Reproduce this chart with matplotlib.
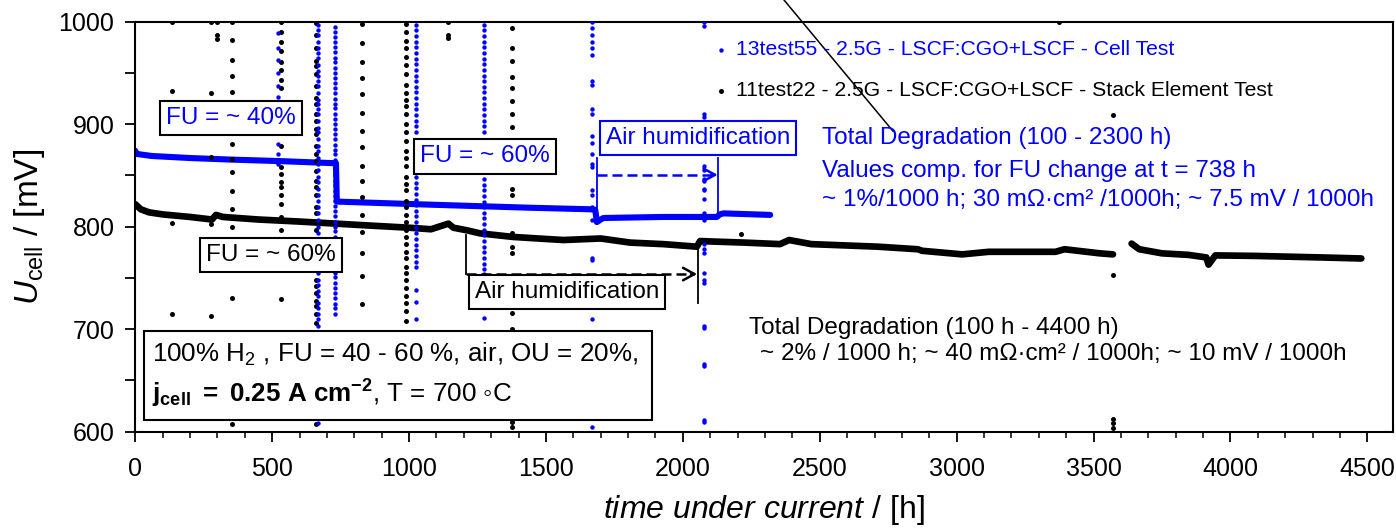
import matplotlib
matplotlib.use("Agg")
import matplotlib.pyplot as plt
from matplotlib.patches import Rectangle
from matplotlib.ticker import MultipleLocator
import numpy as np

plt.rcParams['font.family'] = ['Liberation Sans', 'DejaVu Sans']
plt.rcParams['mathtext.fontset'] = 'custom'
plt.rcParams['mathtext.rm'] = 'Liberation Sans'
plt.rcParams['mathtext.it'] = 'Liberation Sans:italic'
plt.rcParams['mathtext.bf'] = 'Liberation Sans:bold'

BLUE = '#0000ff'
nan = np.nan

# 11test22 stack element test - main trace (h, mV)
blk_t = [0, 20, 50, 100, 200, 280, 295, 320, 450, 600, 700, 830, 1000, 1080,
         1144, 1162, 1211, 1259, 1380, 1563, 1700, 1807, 1928, 2051, 2063, 2111,
         2224, 2355, 2388, 2469, 2712, 2858, 2874, 3020, 3117, 3361, 3394, 3523,
         3571, nan, 3639, 3667, 3750, 3847, 3912, 3920, 3945, 4090, 4332, 4478]
blk_u = [822, 817, 814, 812, 809.5, 807, 811.5, 809.5, 807, 805, 803.5, 801.5, 799, 797.5,
         803, 799, 796.5, 793.5, 790, 787, 788.5, 784.5, 783, 780.5, 786, 785.5,
         784.5, 783, 787, 783, 780.5, 778, 776.5, 773, 775.5, 775.5, 778, 774,
         773, nan, 783.5, 778, 774, 772.5, 770, 763, 772, 771.5, 770, 769]

# 13test55 cell test - main trace
blu_t = [0, 5, 60, 200, 346, 528, 723, 733, 736, 1077, 1442, 1661, 1680, 1686,
         1700, 1710, 1928, 2124, 2135, 2148, 2319]
blu_u = [874, 871, 869, 867, 865.5, 864, 862, 862, 824.5, 821.5, 818.5, 817, 816.5, 804.5,
         807, 808.5, 809.5, 809.5, 812, 813, 811.5]

# scattered readings at interruptions (time of event, voltages recorded)
blk_spike_t = [133, 277, 298, 352, 534, 661, 827, 988, 1142, 1375, 2212, 3374, 3572]
blk_spike_u = [
    [1000, 932, 804, 715],
    [1000, 930, 868, 802.5, 713],
    [1000, 987, 983.5],
    [1000, 982, 963, 947, 931, 913.5, 898.5, 881, 866, 853, 835, 817.5, 800, 730.5, 607.5],
    [1000, 990, 980.5, 971, 961, 953, 943.5, 935.5, 918, 902, 879, 858, 851.5, 843.5,
     838.5, 830.5, 822.5, 809.5, 796.5, 729],
    [998.5, 987, 974, 961.5, 956.5, 948.5, 937, 926, 919.5, 909.5, 903, 895, 890.5, 879,
     871, 864.5, 854.5, 845, 838.5, 830.5, 819.5, 813, 804.5, 796.5, 780, 765, 748, 742,
     735.5, 727.5, 722.5, 714.5, 706, 607.5],
    [997.5, 979, 961, 945, 929, 911, 893.5, 877.5, 859.5, 845, 829, 811, 795, 774, 751.5, 724.5],
    [997.5, 989.5, 981.5, 974, 966, 958, 948.5, 938.5, 930.5, 924, 917.5, 909.5, 900, 892,
     884, 874, 867.5, 859.5, 848.5, 842, 835.5, 825.5, 819.5, 811, 804.5, 796.5, 790, 783.5,
     775.5, 769, 761, 754.5, 748, 740, 732, 725.5, 717.5, 708],
    [1000, 987, 984],
    [993.5, 974, 961.5, 946.5, 935.5, 922.5, 909.5, 897, 837, 830.5, 793.5, 780.5, 774,
     716, 700, 609.5, 604.5],
    [792.5],
    [1000],
    [908.5, 753, 612, 608, 604],
]

blu_spike_t = [520, 666, 731, 1024, 1272, 1667, 2078]
blu_spike_u = [
    [989, 974, 963, 950, 937, 927, 880.5, 871, 861],
    [997, 992, 987, 980.5, 974, 969.5, 964.5, 958, 951.5, 947, 942, 937, 930.5, 924, 919.5,
     914.5, 909.5, 903, 896.5, 892, 885.5, 879, 874, 867.5, 861, 855, 848.5, 843.5, 837,
     830.5, 825.5, 819.5, 813, 806.5, 800, 793.5, 787, 780.5, 774, 767.5, 761, 754.5, 748,
     743.5, 737, 732, 725.5, 721, 714.5, 709.5, 703, 608],
    [995, 990, 985, 980, 975.5, 970, 965, 960.5, 955, 950, 945.5, 940, 935, 930.5, 925, 920,
     915.5, 910, 905, 900.5, 895, 890, 885.5, 880, 875, 870.5, 865, 860, 855.5, 850, 845,
     840.5, 835, 830, 825.5, 820, 815, 810.5, 805, 800, 795.5, 790, 785, 780.5, 775, 770,
     765.5, 760, 755, 750.5, 745, 740, 735.5, 730, 725, 720.5, 714.5],
    [997, 991.5, 986, 980.5, 975, 969.5, 964, 958.5, 953, 947.5, 942, 936.5, 931, 925.5, 920,
     914.5, 909, 903.5, 898, 892.5, 848.5, 843, 837.5, 832, 826.5, 821, 815.5, 810, 804.5,
     799, 793.5, 788, 782.5, 777, 771.5, 766, 761, 738.5, 727, 709.5],
    [997, 991.5, 986, 980.5, 975, 969.5, 964, 958.5, 953, 947.5, 942, 936.5, 931, 925.5, 920,
     914.5, 909, 903.5, 898, 892.5, 846.5, 841, 835.5, 830, 824.5, 819, 813.5, 808, 802.5,
     797, 791.5, 786, 780.5, 775, 769.5, 764, 758.5, 754, 711],
    [1000, 993.5, 987, 980.5, 974, 967.5, 942, 938.5, 914.5, 909.5, 888.5, 882, 871, 861,
     858, 835.5, 830.5, 819.5, 806.5, 769, 767.5, 709.5, 604.5],
    [1000, 996, 909.5, 907, 859.5, 855, 847, 845, 837, 835.5, 827.5, 813, 806.5, 783.5, 778,
     774, 754.5, 748, 745, 703, 701.5, 666, 664.5, 611, 609.5],
]

labels = ["13test55 - 2.5G - LSCF:CGO+LSCF - Cell Test",
          "11test22 - 2.5G - LSCF:CGO+LSCF - Stack Element Test"]


def flatten(ts, us):
    xs = np.concatenate([np.full(len(u), t, dtype=float) for t, u in zip(ts, us)])
    ys = np.concatenate([np.asarray(u, dtype=float) for u in us])
    return xs, ys


fig = plt.figure(figsize=(13.96, 5.28), dpi=100)
ax = fig.add_axes([0.0969, 0.1824, 0.9006, 0.7765])

ax.plot(blk_t, blk_u, color='black', lw=4.8, solid_capstyle='round', zorder=2)
ax.plot(blu_t, blu_u, color=BLUE, lw=4.4, solid_capstyle='round', zorder=2)

bx, by = flatten(blk_spike_t, blk_spike_u)
ux, uy = flatten(blu_spike_t, blu_spike_u)
sc_blk = ax.scatter(bx, by, s=13, color='black', linewidths=0, zorder=3, label=labels[1])
sc_blu = ax.scatter(ux, uy, s=10, color=BLUE, linewidths=0, zorder=3, label=labels[0])

ax.set_xlim(0, 4592)
ax.set_ylim(600, 1000)
ax.set_xticks(range(0, 4501, 500))
ax.xaxis.set_minor_locator(MultipleLocator(100))
ax.set_yticks(range(600, 1001, 100))
ax.yaxis.set_minor_locator(MultipleLocator(50))
ax.tick_params(axis='both', which='major', direction='out', length=7, width=1.3,
               labelsize=18, pad=8)
ax.tick_params(axis='x', which='major', pad=11)
ax.tick_params(axis='x', which='minor', direction='out', length=4, width=1.1)
ax.tick_params(axis='y', which='minor', direction='out', length=7, width=1.3)
for sp in ax.spines.values():
    sp.set_linewidth(1.5)

ax.set_xlabel(r"$\mathit{time\ under\ current}$ / [h]", fontsize=23, labelpad=9)
ax.set_ylabel(r"$U_{\mathrm{cell}}$ / [mV]", fontsize=24, labelpad=8)

leg = ax.legend(handles=[sc_blu, sc_blk], loc='upper left', bbox_to_anchor=(0.4605, 0.955),
                frameon=False, fontsize=15.2, handlelength=0.6, handletextpad=0.45,
                labelspacing=1.05, borderpad=0, borderaxespad=0, scatterpoints=1,
                labelcolor=[BLUE, 'black'])
leg.set_zorder(8)

# label boxes
box_kw = dict(ha='center', va='center', fontsize=17.5, zorder=7)
ax.text(350, 905.8, "FU = ~ 40%", color=BLUE,
        bbox=dict(boxstyle='square,pad=0.25', fc='white', ec='black', lw=1.5), **box_kw)
ax.text(497, 772.6, "FU = ~ 60%", color='black',
        bbox=dict(boxstyle='square,pad=0.25', fc='white', ec='black', lw=1.5), **box_kw)
ax.text(1278, 868.5, "FU = ~ 60%", color=BLUE,
        bbox=dict(boxstyle='square,pad=0.25', fc='white', ec='black', lw=1.5), **box_kw)
ax.text(2055, 886.4, "Air humidification", color=BLUE,
        bbox=dict(boxstyle='square,pad=0.25', fc='white', ec=BLUE, lw=1.5), **box_kw)
ax.text(1577, 735.9, "Air humidification", color='black',
        bbox=dict(boxstyle='square,pad=0.25', fc='white', ec='black', lw=1.5), **box_kw)

# humidification markers (blue)
ax.plot([1685, 1685], [866.9, 812.8], color=BLUE, lw=1.3, zorder=6)
ax.plot([2129, 2129], [866.9, 811], color=BLUE, lw=1.3, zorder=6)
ax.plot([1685, 2115], [850.6, 850.6], color=BLUE, lw=1.8, ls=(0, (4, 2)), zorder=6)
ax.annotate('', xy=(2127, 850.6), xytext=(2105, 850.6), zorder=6,
            arrowprops=dict(arrowstyle='->,head_length=0.55,head_width=0.3',
                            mutation_scale=15, color=BLUE, lw=1.8, shrinkA=0, shrinkB=0))
# humidification markers (black)
ax.plot([1207, 1207], [792, 753.8], color='black', lw=1.3, zorder=6)
ax.plot([2055, 2055], [778.9, 725.6], color='black', lw=1.3, zorder=6)
ax.plot([1207, 2040], [753.8, 753.8], color='black', lw=1.8, ls=(0, (4, 2)), zorder=8)
ax.annotate('', xy=(2052, 753.8), xytext=(2030, 753.8), zorder=8,
            arrowprops=dict(arrowstyle='->,head_length=0.55,head_width=0.3',
                            mutation_scale=15, color='black', lw=1.8, shrinkA=0, shrinkB=0))

# pointer line from the top
ax.plot([2370, 2767], [1021, 893.4], color='black', lw=1.1, clip_on=False, zorder=6)

# degradation notes
note_kw = dict(ha='left', va='center', fontsize=17.5, zorder=7)
ax.text(2509, 886.9, "Total Degradation (100 - 2300 h)", color=BLUE, **note_kw)
ax.text(2509, 854.7, "Values comp. for FU change at t = 738 h", color=BLUE, **note_kw)
ax.text(2509, 825.7, "~ 1%/1000 h; 30 m\u03a9\u00b7cm\u00b2 /1000h; ~ 7.5 mV / 1000h",
        color=BLUE, **note_kw)
ax.text(2242, 701.4, "Total Degradation (100 h - 4400 h)", color='black', **note_kw)
ax.text(2282, 675.5, "~ 2% / 1000 h; ~ 40 m\u03a9\u00b7cm\u00b2 / 1000h; ~ 10 mV / 1000h",
        color='black', **note_kw)

# operating conditions
ax.add_patch(Rectangle((32, 611.4), 1855, 87, fc='white', ec='black', lw=1.5, zorder=7))
ax.text(62, 675.5, r"100% H$_2$ , FU = 40 - 60 %, air, OU = 20%,", ha='left',
        va='center', fontsize=18.7, zorder=8)
ax.text(62, 636.8, r"$\mathbf{j_{cell}\ {=}\ 0.25\ A\ cm^{-2}}$" + ", T = 700 \u25e6C",
        ha='left', va='center', fontsize=18.7, zorder=8)

fig.savefig("out.png", dpi=100)
